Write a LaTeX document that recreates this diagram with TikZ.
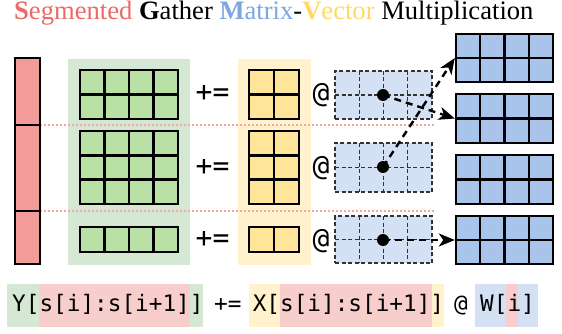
\documentclass[tikz,border=0pt]{standalone}
\usepackage{fontspec}
\setmainfont{Liberation Serif}
\setmonofont{DejaVu Sans Mono}
\usetikzlibrary{arrows.meta}
\definecolor{redbar}{HTML}{F19C99}
\definecolor{redbg}{HTML}{F8CECC}
\definecolor{greenbg}{HTML}{D5E8D4}
\definecolor{greencell}{HTML}{B9E0A5}
\definecolor{yellowbg}{HTML}{FFF2CC}
\definecolor{yellowcell}{HTML}{FFE599}
\definecolor{bluebg}{HTML}{D4E1F5}
\definecolor{bluecell}{HTML}{A9C4EB}
\definecolor{titlered}{HTML}{EA6B66}
\definecolor{titleblue}{HTML}{7EA6E0}
\definecolor{titleyellow}{HTML}{FFD966}
\definecolor{sepred}{HTML}{F4A6A4}
\definecolor{dashgray}{HTML}{333333}
\newcommand\cellgrid[9]{%
  \node[#8, inner sep=0pt, minimum width={(#4-#2)*1pt}, minimum height={(#5-#3)*1pt}] (#1) at ({(#2+#4)/2},{(#3+#5)/2}) {};
  \pgfmathsetmacro\cgw{(#4-#2)/#6}%
  \pgfmathsetmacro\cgh{(#5-#3)/#7}%
  \ifnum#6>1\relax
    \foreach \kk in {2,...,#6} {\draw[#9] ({#2+(\kk-1)*\cgw},#3) -- ({#2+(\kk-1)*\cgw},#5);}%
  \fi
  \ifnum#7>1\relax
    \foreach \kk in {2,...,#7} {\draw[#9] (#2,{#3+(\kk-1)*\cgh}) -- (#4,{#3+(\kk-1)*\cgh});}%
  \fi
}
\begin{document}
\begin{tikzpicture}[x=1pt,y=-1pt,
  solidline/.style={draw=black, line width=2.4pt},
  gbox/.style={solidline, fill=greencell},
  ybox/.style={solidline, fill=yellowcell},
  bbox/.style={solidline, fill=bluecell},
  dline/.style={draw=dashgray, line width=1.1pt, dash pattern=on 4pt off 2.5pt},
  dbox/.style={dline, fill=bluebg},
  sepline/.style={draw=sepred, line width=2pt, dash pattern=on 2pt off 2pt},
  oplabel/.style={font=\ttfamily\fontsize{28}{30}\selectfont, inner sep=0pt},
  formula/.style={font=\ttfamily\fontsize{22.7}{27}\selectfont, inner sep=0pt, anchor=base west},
  dot/.style={circle, fill=black, inner sep=0pt, minimum size=12pt},
  arr/.style={draw=black, line width=2.4pt, dash pattern=on 7pt off 5pt, -{Stealth[length=16pt, width=13pt, inset=4.5pt]}}
]
\useasboundingbox (0,0) rectangle (562,334);

% title
\node[anchor=base west, inner sep=0pt, font=\fontsize{26.6}{29}\selectfont] (title) at (14,19.5)
  {\textcolor{titlered}{\textbf{S}egmented} \textbf{G}ather \textcolor{titleblue}{\textbf{M}atrix}-\textcolor{titleyellow}{\textbf{V}ector} Multiplication};

% backgrounds
\fill[greenbg] (68,59) rectangle (190,265);
\fill[yellowbg] (238,59) rectangle (311,265);

% separators
\draw[sepline] (40,125) -- (435,125);
\draw[sepline] (40,211) -- (435,211);

% red segment bar
\node[solidline, fill=redbar, inner sep=0pt, minimum width=25pt, minimum height=206pt] (bar) at (27.5,161) {};
\draw[solidline] (15,125) -- (40,125);
\draw[solidline] (15,211) -- (40,211);

% green grids
\cellgrid{y1}{80}{70}{178}{119}{4}{2}{gbox}{solidline}
\cellgrid{y2}{80}{131}{178}{204}{4}{3}{gbox}{solidline}
\cellgrid{y3}{80}{227}{178}{252}{4}{1}{gbox}{solidline}

% yellow grids
\cellgrid{x1}{249}{70}{299}{119}{2}{2}{ybox}{solidline}
\cellgrid{x2}{249}{131}{299}{204}{2}{3}{ybox}{solidline}
\cellgrid{x3}{249}{227}{299}{252}{2}{1}{ybox}{solidline}

% operators
\node[oplabel] (pe1) at (212.5,93) {+=};
\node[oplabel] (pe2) at (212.5,167) {+=};
\node[oplabel] (pe3) at (212.5,239) {+=};
\node[oplabel] (at1) at (321,95) {@};
\node[oplabel] (at2) at (321,168) {@};
\node[oplabel] (at3) at (321,241) {@};

% dashed index grids
\cellgrid{s1}{335}{71}{432}{119}{4}{2}{dbox}{dline}
\cellgrid{s2}{335}{143}{432}{192}{4}{2}{dbox}{dline}
\cellgrid{s3}{335}{216}{432}{263}{4}{2}{dbox}{dline}

% weight grids
\cellgrid{w1}{456}{34}{553}{82}{4}{2}{bbox}{solidline}
\cellgrid{w2}{456}{94}{553}{143}{4}{2}{bbox}{solidline}
\cellgrid{w3}{456}{155}{553}{204}{4}{2}{bbox}{solidline}
\cellgrid{w4}{456}{216}{553}{264}{4}{2}{bbox}{solidline}

% dots
\node[dot] (d1) at (383,95) {};
\node[dot] (d2) at (383,167) {};
\node[dot] (d3) at (383,240) {};

% arrows
\draw[arr] (d1.center) -- (w2.west);
\draw[arr] (d2.center) -- (w1.west);
\draw[arr] (d3.center) -- (w4.west);

% formula
\fill[greenbg] (7,284) rectangle (203,327);
\fill[redbg] (39.4,284) rectangle (190,327);
\fill[yellowbg] (249,284) rectangle (444,327);
\fill[redbg] (280,284) rectangle (432,327);
\fill[bluebg] (475,284) rectangle (538,327);
\fill[redbg] (506,284) rectangle (518,327);
\node[formula] (fy) at (12,311) {Y[s[i]:s[i+1]]};
\node[formula] (fpe) at (214,311) {+=};
\node[formula] (fx) at (252.6,311) {X[s[i]:s[i+1]]};
\node[formula] (fat) at (454,311) {@};
\node[formula] (fw) at (480,311) {W[i]};
\end{tikzpicture}
\end{document}
